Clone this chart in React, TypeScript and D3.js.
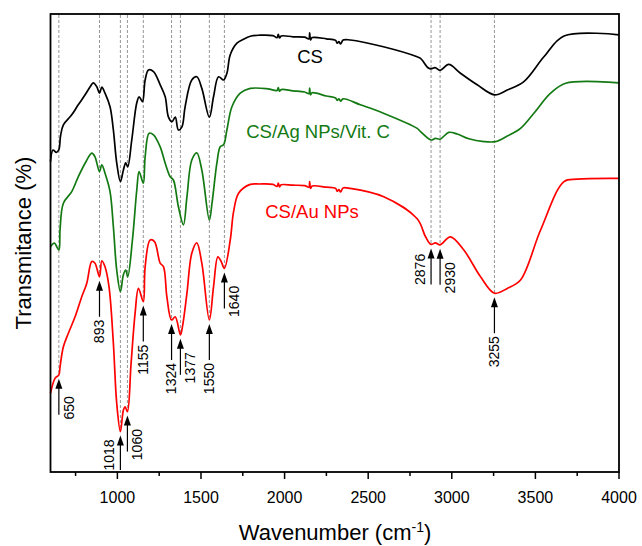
import React from "react";
import * as d3 from "d3";

const csData: [number, number][] = [
  [600, 77.6], [615, 80.5], [635, 79.9], [650, 80.6], [660, 84], [677, 86.8], [727, 89.3], [766, 91.8],
  [807, 94.3], [837, 96.3], [856, 97.3], [877, 96.3], [893, 94.7], [907, 96.2], [926, 94.7], [956, 91.3],
  [976, 85.5], [996, 77.3], [1018, 72.6], [1036, 75.5], [1050, 77.3], [1062, 76.3], [1086, 83], [1116, 92.3],
  [1130, 93.8], [1150, 92.6], [1166, 98], [1186, 100.5], [1216, 100.1], [1256, 96.8], [1286, 93.8], [1305, 88.8],
  [1326, 87.6], [1346, 88.7], [1365, 85.5], [1386, 86.3], [1405, 91.3], [1445, 98], [1475, 98.8], [1505, 95.9],
  [1550, 88.7], [1575, 93.8], [1605, 98.8], [1635, 98], [1655, 99.7], [1675, 104.3], [1715, 107.2], [1755, 108.2],
  [1800, 109], [1850, 109.2], [1930, 109.1], [1955, 108.6], [1962, 109.4], [1970, 108.5], [1980, 109.0],
  [2050, 108.8], [2120, 108.7], [2145, 108.3], [2150, 109.8], [2155, 108.0], [2165, 108.6], [2250, 108.3],
  [2305, 107.9], [2315, 107.2], [2325, 107.6], [2335, 107.0], [2350, 108.0], [2393, 108], [2591, 106.3],
  [2793, 103.8], [2813, 103.4], [2860, 101], [2876, 100.8], [2900, 101.1], [2930, 100.4], [2982, 101.9],
  [3052, 99.7], [3152, 96.8], [3255, 94.3], [3332, 95.5], [3431, 97.6], [3551, 103.8], [3671, 109], [4000, 109.3],
];

const agData: [number, number][] = [
  [600, 56.3], [623, 57.2], [650, 55.5], [657, 60.5], [677, 67.2], [727, 70.1], [766, 73.8], [807, 77.2],
  [847, 79.7], [866, 78.8], [893, 75.1], [907, 76.8], [926, 74.7], [956, 70.1], [976, 61.3], [996, 50.5],
  [1018, 45.1], [1036, 49.3], [1050, 50.5], [1062, 48.8], [1090, 58], [1116, 70.5], [1130, 75.1], [1155, 72.2],
  [1166, 78.8], [1190, 84.7], [1216, 84.3], [1256, 81.3], [1286, 77.2], [1316, 73.8], [1335, 73], [1365, 66.3],
  [1395, 61.8], [1416, 68.8], [1445, 78], [1475, 79.8], [1505, 75.5], [1550, 63], [1566, 67.2], [1595, 77.2],
  [1615, 81.3], [1635, 81.8], [1655, 85.5], [1685, 91.3], [1735, 94.7], [1795, 95.9], [1900, 95.8],
  [1955, 95.4], [1962, 96.1], [1970, 95.2], [1980, 95.6], [2050, 95.3], [2120, 95.0], [2145, 94.6],
  [2150, 96.0], [2155, 94.3], [2165, 94.8], [2250, 94.0], [2305, 93.5], [2315, 92.9], [2325, 93.3],
  [2335, 92.7], [2350, 93.3], [2453, 91.8], [2591, 89.7], [2793, 85.9], [2813, 85.1], [2876, 83],
  [2902, 83.4], [2930, 83.2], [2982, 84.9], [3032, 84.5], [3102, 83.3], [3192, 82.6], [3261, 82.6],
  [3332, 84], [3411, 85.9], [3491, 89.7], [3591, 94.7], [3681, 97.2], [4000, 97.3],
];

const auData: [number, number][] = [
  [600, 19.7], [627, 23.4], [650, 24.3], [657, 26.3], [677, 31.3], [707, 34.7], [747, 38.8], [787, 43.8],
  [817, 47.2], [847, 52.6], [866, 52.2], [893, 48.8], [907, 52.8], [926, 51.3], [950, 46.3], [976, 32.2],
  [996, 17.2], [1018, 10.1], [1036, 15.5], [1046, 16.3], [1060, 15.1], [1082, 27.2], [1106, 39.7], [1126, 45.9],
  [1155, 42.6], [1166, 51.3], [1196, 58], [1222, 57.6], [1256, 52.2], [1276, 51.3], [1296, 43.8], [1324, 38],
  [1346, 38.8], [1377, 34.3], [1389, 36.3], [1416, 44.7], [1445, 54.7], [1475, 57.3], [1505, 52.2], [1550, 38],
  [1575, 46.3], [1601, 53.8], [1621, 52.6], [1640, 50.9], [1675, 58], [1695, 65.1], [1725, 69.7], [1795, 71.9],
  [1850, 72.0], [1930, 71.9], [1955, 71.4], [1962, 72.2], [1970, 71.3], [1980, 71.8], [2050, 71.7],
  [2120, 71.6], [2145, 71.2], [2150, 72.6], [2155, 70.9], [2165, 71.5], [2250, 71.2], [2305, 70.9],
  [2315, 70.2], [2325, 70.6], [2335, 70.0], [2350, 71.0], [2393, 70.9], [2593, 68.8], [2793, 63.3],
  [2843, 58.8], [2876, 56.9], [2902, 57.3], [2930, 56.8], [2992, 58.8], [3072, 55.5], [3172, 48.8],
  [3255, 44.7], [3332, 45.9], [3411, 48], [3531, 60.5], [3671, 72.6], [3751, 73.2], [4000, 73.4],
];

const peaks: number[] = [650, 893, 1018, 1060, 1155, 1324, 1377, 1550, 1640, 2876, 2930, 3255];
const peakLabelSide: string[] = ["right", "below", "left", "right", "below", "below", "right", "below", "right", "left", "right", "below"];

const majorTicks: number[] = [1000, 1500, 2000, 2500, 3000, 3500, 4000];
const minorTicks: number[] = [750, 1250, 1750, 2250, 2750, 3250, 3750];

const seriesNames: string[] = ["CS", "CS/Ag NPs/Vit. C", "CS/Au NPs"];
const seriesColors: string[] = ["#000000", "#137a13", "#ff0000"];

const W = 642, H = 546;
const left = 50.5, right = 619, top = 14, bottom = 472;
const font = "'Liberation Sans', Arial, sans-serif";

export default function App() {
  const x = d3.scaleLinear().domain([600, 4000]).range([left, right]);
  const y = d3.scaleLinear().domain([0, 114.5]).range([bottom, top]);
  const line = d3.line<[number, number]>().x(d => x(d[0])).y(d => y(d[1])).curve(d3.curveCatmullRom.alpha(0.5));
  const series = [csData, agData, auData];

  const redAt = (w: number) => {
    const i = d3.bisector((d: [number, number]) => d[0]).left(auData, w);
    if (i <= 0) return auData[0][1];
    const a = auData[i - 1], b = auData[i];
    if (b[0] === w) return b[1];
    return a[1] + ((b[1] - a[1]) * (w - a[0])) / (b[0] - a[0]);
  };

  const labelPos = [
    { x: 310, y: 63 },
    { x: 318, y: 138 },
    { x: 312, y: 218 },
  ];

  return (
    <svg width={W} height={H} style={{ position: "absolute", left: 0, top: 0, background: "#fff" }}>
      {peaks.map(p => (
        <line key={"g" + p} x1={x(p)} x2={x(p)} y1={top + 1} y2={y(redAt(p))} stroke="#7a7a7a" strokeWidth={0.8} strokeDasharray="3,2" />
      ))}
      {series.map((s, i) => (
        <path key={i} d={line(s) || ""} fill="none" stroke={seriesColors[i]} strokeWidth={1.7} strokeLinejoin="round" />
      ))}
      {seriesNames.map((n, i) => (
        <text key={n} x={labelPos[i].x} y={labelPos[i].y} fill={seriesColors[i]} fontFamily={font} fontSize={18.5} textAnchor="middle">{n}</text>
      ))}
      {peaks.map((p, i) => {
        const px = x(p);
        const tip = y(redAt(p)) + 4;
        const bot = Math.min(tip + 36, bottom - 2);
        const side = peakLabelSide[i];
        let lx = px, ly = bot + 3, anchor = "end";
        if (side === "right") { lx = px + 10; ly = bot - 7; anchor = "middle"; }
        if (side === "left") { lx = px - 11; ly = bot - 7 - (bot - tip < 36 ? 8 : 0); anchor = "middle"; }
        return (
          <g key={"a" + p}>
            <line x1={px} x2={px} y1={tip + 8} y2={bot} stroke="#000" strokeWidth={1.2} />
            <path d={`M${px},${tip} L${px - 3.5},${tip + 10} L${px + 3.5},${tip + 10} Z`} fill="#000" />
            <text transform={`translate(${lx},${ly}) rotate(-90)`} dy="0.35em" textAnchor={anchor} fontFamily={font} fontSize={14} fill="#000">{p}</text>
          </g>
        );
      })}
      <rect x={left} y={top} width={right - left} height={bottom - top} fill="none" stroke="#000" strokeWidth={1.8} />
      {majorTicks.map(t => (
        <g key={"t" + t}>
          <line x1={x(t)} x2={x(t)} y1={bottom} y2={bottom + 7} stroke="#000" strokeWidth={1.5} />
          <text x={x(t)} y={503} textAnchor="middle" fontFamily={font} fontSize={16} fill="#000">{t}</text>
        </g>
      ))}
      {minorTicks.map(t => (
        <line key={"m" + t} x1={x(t)} x2={x(t)} y1={bottom} y2={bottom + 4} stroke="#000" strokeWidth={1.5} />
      ))}
      <text x={335} y={540} textAnchor="middle" fontFamily={font} fontSize={22} fill="#000">
        Wavenumber (cm<tspan dy={-8} fontSize={14}>-1</tspan><tspan dy={8}>)</tspan>
      </text>
      <text transform={`translate(31,${(top + bottom) / 2}) rotate(-90)`} textAnchor="middle" fontFamily={font} fontSize={22} fill="#000">Transmitance (%)</text>
    </svg>
  );
}
